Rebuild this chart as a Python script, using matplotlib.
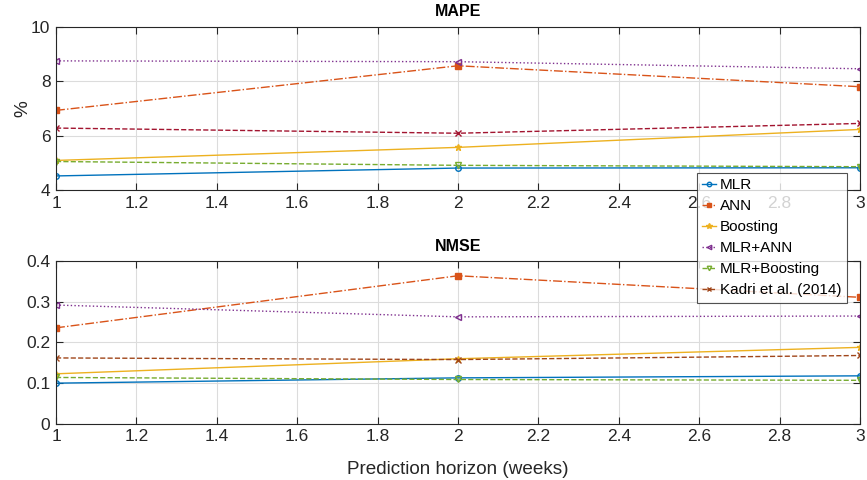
import matplotlib.pyplot as plt

horizon = [1, 2, 3]
models = ['MLR', 'ANN', 'Boosting', 'MLR+ANN', 'MLR+Boosting', 'Kadri et al. (2014)']

mape_mlr = [4.52, 4.81, 4.82]
mape_ann = [6.93, 8.57, 7.80]
mape_boost = [5.09, 5.57, 6.23]
mape_mlr_ann = [8.75, 8.72, 8.46]
mape_mlr_boost = [5.05, 4.91, 4.86]
mape_kadri = [6.28, 6.09, 6.45]

nmse_mlr = [0.100, 0.113, 0.118]
nmse_ann = [0.236, 0.364, 0.311]
nmse_boost = [0.123, 0.160, 0.188]
nmse_mlr_ann = [0.292, 0.263, 0.265]
nmse_mlr_boost = [0.114, 0.109, 0.107]
nmse_kadri = [0.162, 0.158, 0.168]

styles = [
    dict(color='#0072BD', ls='-', marker='o', mfc='none'),
    dict(color='#D95319', ls='-.', marker='s'),
    dict(color='#EDB120', ls='-', marker='*', ms=5),
    dict(color='#7E2F8E', ls=':', marker='<', mfc='none'),
    dict(color='#77AC30', ls='--', marker='v', mfc='none'),
    dict(color='#A2142F', ls='--', marker='x'),
]

plt.rcParams['font.family'] = ['Liberation Sans', 'DejaVu Sans']
plt.rcParams['font.size'] = 12.5

fig = plt.figure(figsize=(8.67, 4.8), dpi=100)
ax1 = fig.add_axes([0.0646, 0.604, 0.9274, 0.340])
ax2 = fig.add_axes([0.0646, 0.117, 0.9274, 0.339])

mape = [mape_mlr, mape_ann, mape_boost, mape_mlr_ann, mape_mlr_boost, mape_kadri]
nmse = [nmse_mlr, nmse_ann, nmse_boost, nmse_mlr_ann, nmse_mlr_boost, nmse_kadri]

handles = []
for name, st, y in zip(models, styles, mape):
    ax1.plot(horizon, y, lw=1, ms=st.get('ms', 4), label=name,
             **{k: v for k, v in st.items() if k != 'ms'})
styles[5]['color'] = '#A0461A'
for name, st, y in zip(models, styles, nmse):
    h, = ax2.plot(horizon, y, lw=1, ms=st.get('ms', 4), label=name,
                  **{k: v for k, v in st.items() if k != 'ms'})
    handles.append(h)

for ax in (ax1, ax2):
    ax.set_xlim(1, 3)
    ax.set_xticks([1, 1.2, 1.4, 1.6, 1.8, 2, 2.2, 2.4, 2.6, 2.8, 3])
    ax.set_xticklabels(['1', '1.2', '1.4', '1.6', '1.8', '2', '2.2', '2.4', '2.6', '2.8', '3'])
    ax.grid(True, color='#dcdcdc', lw=0.8)
    ax.set_axisbelow(True)
    ax.tick_params(direction='in', top=True, right=True, colors='#262626',
                   labelsize=12.5, length=5, pad=4)
    for sp in ax.spines.values():
        sp.set_color('#262626')
        sp.set_linewidth(0.8)

ax1.set_ylim(4, 10)
ax1.set_yticks([4, 6, 8, 10])
ax1.set_ylabel('%', color='#262626', fontsize=13.6, labelpad=0)
ax1.set_title('MAPE', fontweight='bold', fontsize=11.5, pad=8)

ax2.set_ylim(0, 0.4)
ax2.set_yticks([0, 0.1, 0.2, 0.3, 0.4])
ax2.set_yticklabels(['0', '0.1', '0.2', '0.3', '0.4'])
ax2.set_xlabel('Prediction horizon (weeks)', color='#262626', fontsize=13.6, labelpad=12)
ax2.set_title('NMSE', fontweight='bold', fontsize=11.5, pad=7)

leg = fig.legend(handles=handles, loc='upper left', bbox_to_anchor=(0.804, 0.640),
                 fontsize=11, frameon=True, fancybox=False, handlelength=0.9,
                 handletextpad=0.25, borderpad=0.35, labelspacing=0.46,
                 borderaxespad=0, markerscale=0.8)
leg.get_frame().set_edgecolor('#262626')
leg.get_frame().set_linewidth(0.8)

fig.savefig('out.png', dpi=100)
